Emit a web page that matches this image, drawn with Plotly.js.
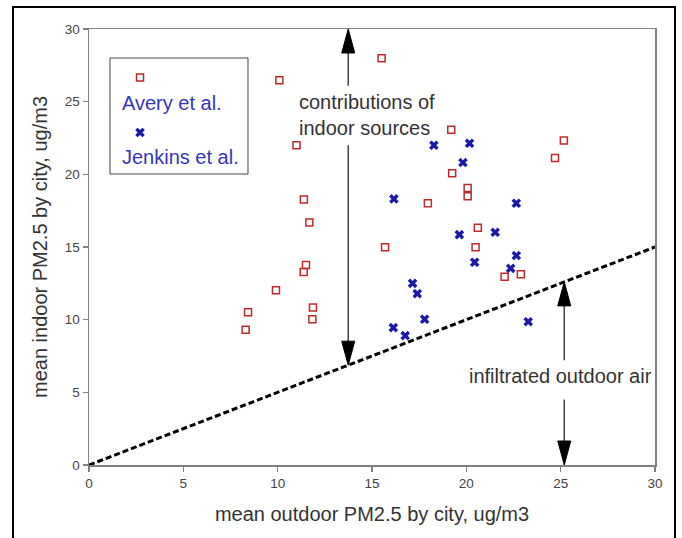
<!DOCTYPE html>
<html><head><meta charset="utf-8">
<script src="https://cdn.plot.ly/plotly-3.0.1.min.js"></script>
<style>
html,body{margin:0;padding:0;background:#fff;}
#chart{width:682px;height:538px;}
#frame{position:absolute;left:12px;top:6px;width:660px;height:540px;border:2px solid #000;border-bottom:none;pointer-events:none;}
</style></head><body>
<div id="chart"></div><div id="frame"></div>
<script>
// Avery et al. (red open squares)
const averyX = [8.30, 8.43, 9.91, 10.09, 11.00, 11.39, 11.68, 11.50, 11.38, 11.87, 11.84, 15.51, 15.69, 17.96, 19.20, 19.25, 20.07, 20.07, 20.61, 20.49, 22.03, 22.89, 24.70, 25.17];
const averyY = [9.31, 10.51, 12.02, 26.47, 22.00, 18.26, 16.68, 13.76, 13.28, 10.83, 10.03, 27.99, 14.98, 18.01, 23.06, 20.07, 19.06, 18.49, 16.33, 14.98, 12.96, 13.12, 21.13, 22.32];
// Jenkins et al. (blue x)
const jenkinsX = [18.28, 20.17, 19.82, 16.16, 22.65, 19.63, 21.53, 22.65, 20.44, 22.35, 17.15, 17.40, 17.79, 16.13, 16.76, 23.28];
const jenkinsY = [22.00, 22.14, 20.81, 18.31, 18.01, 15.85, 16.01, 14.41, 13.95, 13.53, 12.50, 11.79, 10.03, 9.45, 8.90, 9.86];
// indoor = outdoor/2 reference line
const refLineX = [0, 30];
const refLineY = [0, 15];
const tickVals = [0, 5, 10, 15, 20, 25, 30];
const tickText = ['0', '5', '10', '15', '20', '25', '30'];
const seriesNames = ['Avery et al.', 'Jenkins et al.'];

// annotation arrows (data coords)
const indoorArrow = {x: 13.74, top: 30, tip: 6.87, gapHi: 26.1, gapLo: 22.0};
const outdoorArrow = {x: 25.19, tip: 12.6, bottom: 0, gapHi: 7.2, gapLo: 4.5};

const W = 682, H = 538;
const M = {l: 89, r: 27, t: 29, b: 73};
const xRange = [0, 30], yRange = [0, 30];
const pxX = (W - M.l - M.r) / (xRange[1] - xRange[0]);
const pxY = (H - M.t - M.b) / (yRange[1] - yRange[0]);
const headLen = 24 / pxY, headHalf = 6.5 / pxX;
const FONT = 'Liberation Sans, Arial, sans-serif';

function head(x, yTip, dir) { // dir +1 up, -1 down
  const yb = yTip - dir * headLen;
  return {type: 'path', xref: 'x', yref: 'y',
    path: `M${x},${yTip} L${x - headHalf},${yb} L${x + headHalf},${yb} Z`,
    fillcolor: '#000', line: {color: '#000', width: 1}};
}
function seg(x, y0, y1) {
  return {type: 'line', xref: 'x', yref: 'y', x0: x, x1: x, y0: y0, y1: y1,
    line: {color: '#444', width: 1.5}};
}

// legend box (paper coords)
const legBox = {x0: 0.0371, x1: 0.2809, y0: 0.6674, y1: 0.9335};

const shapes = [
  {type: 'rect', xref: 'paper', yref: 'paper', x0: legBox.x0, x1: legBox.x1, y0: legBox.y0, y1: legBox.y1,
   fillcolor: '#fff', line: {color: '#444', width: 1}, layer: 'above'},
  seg(indoorArrow.x, indoorArrow.top - headLen, indoorArrow.gapHi),
  seg(indoorArrow.x, indoorArrow.gapLo, indoorArrow.tip + headLen),
  head(indoorArrow.x, indoorArrow.top, 1),
  head(indoorArrow.x, indoorArrow.tip, -1),
  seg(outdoorArrow.x, outdoorArrow.tip - headLen, outdoorArrow.gapHi),
  seg(outdoorArrow.x, outdoorArrow.gapLo, outdoorArrow.bottom + headLen),
  head(outdoorArrow.x, outdoorArrow.tip, 1),
  head(outdoorArrow.x, outdoorArrow.bottom, -1)
];

const annFont = {family: FONT, size: 20, color: '#333'};
const legFont = {family: FONT, size: 20, color: '#3535c0'};
const annotations = [
  {x: 11.02, y: 24.98, xref: 'x', yref: 'y', text: 'contributions of', showarrow: false, xanchor: 'left', yanchor: 'middle', font: annFont},
  {x: 11.02, y: 23.19, xref: 'x', yref: 'y', text: 'indoor sources', showarrow: false, xanchor: 'left', yanchor: 'middle', font: annFont},
  {x: 20.03, y: 6.13, xref: 'x', yref: 'y', text: 'infiltrated outdoor air', showarrow: false, xanchor: 'left', yanchor: 'middle', font: annFont},
  {x: 0.0548, y: 0.830, xref: 'paper', yref: 'paper', text: seriesNames[0], showarrow: false, xanchor: 'left', yanchor: 'middle', font: legFont},
  {x: 0.0548, y: 0.7064, xref: 'paper', yref: 'paper', text: seriesNames[1], showarrow: false, xanchor: 'left', yanchor: 'middle', font: legFont}
];

const traces = [
  {x: refLineX, y: refLineY, mode: 'lines', showlegend: false, hoverinfo: 'skip',
   line: {color: '#000', width: 3, dash: '6px,3px'}},
  {x: averyX, y: averyY, mode: 'markers', name: ' <br> ',
   marker: {symbol: 'square-open', size: 7, color: '#c0282a', line: {width: 1.5, color: '#c0282a'}}},
  {x: jenkinsX, y: jenkinsY, mode: 'markers', name: ' <br> ',
   marker: {symbol: 'x', size: 8.5, color: '#1a1aa8', line: {width: 0}}}
];

const axisCommon = {
  range: xRange, tickmode: 'array', tickvals: tickVals, ticktext: tickText,
  showgrid: false, zeroline: false, showline: true, mirror: true,
  linecolor: '#808080', linewidth: 1.5, ticks: 'outside', ticklen: 5, tickwidth: 1.5, tickcolor: '#808080',
  tickfont: {family: FONT, size: 13.5, color: '#444'}, fixedrange: true
};

const layout = {
  width: W, height: H, margin: M, paper_bgcolor: '#fff', plot_bgcolor: '#fff',
  font: {family: FONT},
  xaxis: Object.assign({}, axisCommon, {
    title: {text: 'mean outdoor PM2.5 by city, ug/m3', standoff: 17, font: {size: 20, color: '#333'}}}),
  yaxis: Object.assign({}, axisCommon, {range: yRange,
    title: {text: 'mean indoor PM2.5 by city, ug/m3', standoff: 12, font: {size: 20, color: '#333'}}}),
  showlegend: true,
  legend: {x: 0.0548, y: 0.9335, xanchor: 'left', yanchor: 'top', bgcolor: 'rgba(0,0,0,0)',
    borderwidth: 0, valign: 'top', font: {family: FONT, size: 20, color: '#3535c0'}},
  shapes: shapes, annotations: annotations
};

Plotly.newPlot('chart', traces, layout, {displayModeBar: false, staticPlot: true});
</script>
</body></html>
